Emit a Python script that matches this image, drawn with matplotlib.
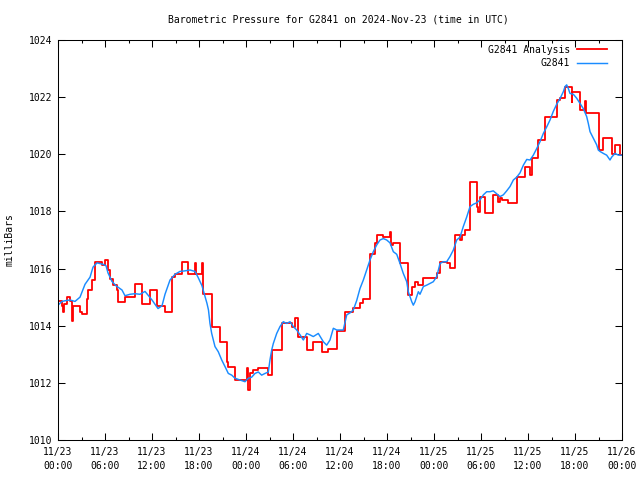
import matplotlib
matplotlib.use('Agg')
import matplotlib.pyplot as plt
from matplotlib.ticker import MultipleLocator

# G2841 station readings (hours since 2024-11-23 00:00 UTC, millibars)
g2841_hours = [0.0, 0.51, 1.02, 1.53, 2.17, 2.81, 3.45, 4.09, 4.47, 4.98,
               5.74, 6.13, 6.38, 6.89, 7.40, 8.17, 8.55, 9.19, 9.83, 10.47,
               11.11, 12.0, 12.77, 13.28, 13.66, 14.30, 14.94, 15.57, 16.21, 16.85,
               17.49, 17.87, 18.38, 18.77, 19.02, 19.21, 19.40, 19.62, 20.04, 20.46,
               20.90, 21.32, 21.74, 22.18, 22.60, 23.23, 23.87, 24.29, 24.73, 25.15,
               25.57, 26.0, 26.43, 26.85, 27.06, 27.28, 27.49, 27.92, 28.34, 28.76,
               29.20, 29.62, 30.04, 30.47, 30.90, 31.32, 31.75, 32.17, 32.59, 33.23,
               33.87, 34.30, 34.72, 35.15, 35.58, 36.0, 36.42, 36.86, 37.28, 37.70,
               38.13, 38.55, 38.98, 39.41, 39.83, 40.25, 40.69, 41.11, 41.53, 41.96,
               42.38, 42.81, 43.24, 43.66, 44.08, 44.52, 44.72, 44.94, 45.16, 45.36,
               45.58, 46.0, 46.21, 46.64, 47.07, 47.49, 47.91, 48.35, 48.77, 49.19,
               49.62, 50.04, 50.47, 50.90, 51.32, 51.74, 52.17, 52.60, 53.02, 53.45,
               53.87, 54.30, 54.73, 55.15, 55.57, 56.0, 56.42, 56.85, 57.28, 57.70,
               58.13, 58.56, 58.98, 59.41, 59.84, 60.26, 60.68, 61.11, 61.53, 61.96,
               62.39, 62.81, 63.23, 63.66, 64.09, 64.51, 64.73, 64.94, 65.15, 65.36,
               65.79, 66.22, 66.64, 67.06, 67.49, 67.70, 67.92, 68.34, 68.77, 68.97,
               69.19, 69.62, 70.04, 70.47, 70.68, 71.11, 71.53, 72.0]
g2841_mb = [1014.72, 1014.85, 1014.88, 1014.9, 1014.85, 1015.0, 1015.45, 1015.7, 1016.05, 1016.2,
            1016.15, 1016.1, 1015.85, 1015.55, 1015.4, 1015.25, 1015.05, 1015.1, 1015.12, 1015.1,
            1015.2, 1014.9, 1014.6, 1014.7, 1015.1, 1015.6, 1015.8, 1015.9, 1015.92, 1015.95,
            1015.9, 1015.7, 1015.4, 1015.02, 1014.78, 1014.55, 1014.08, 1013.73, 1013.27, 1013.09,
            1012.8, 1012.57, 1012.33, 1012.27, 1012.16, 1012.1, 1012.04, 1012.16, 1012.2, 1012.33,
            1012.38, 1012.27, 1012.33, 1012.38, 1012.8, 1013.15, 1013.38, 1013.73, 1013.97, 1014.14,
            1014.08, 1014.14, 1013.97, 1013.85, 1013.68, 1013.5, 1013.73, 1013.68, 1013.62, 1013.73,
            1013.44, 1013.32, 1013.5, 1013.91, 1013.85, 1013.85, 1013.85, 1014.38, 1014.45, 1014.55,
            1014.88, 1015.3, 1015.6, 1015.95, 1016.3, 1016.59, 1016.83, 1017.0, 1017.05, 1017.0,
            1016.9, 1016.59, 1016.5, 1016.18, 1015.83, 1015.54, 1015.19, 1015.02, 1014.84, 1014.72,
            1014.84, 1015.19, 1015.1, 1015.37, 1015.42, 1015.48, 1015.54, 1015.72, 1016.18, 1016.24,
            1016.24, 1016.42, 1016.65, 1017.0, 1017.1, 1017.47, 1017.8, 1018.17, 1018.25, 1018.3,
            1018.4, 1018.58, 1018.69, 1018.69, 1018.72, 1018.62, 1018.52, 1018.58, 1018.72, 1018.87,
            1019.1, 1019.2, 1019.35, 1019.62, 1019.82, 1019.8, 1019.97, 1020.2, 1020.44, 1020.73,
            1020.96, 1021.2, 1021.5, 1021.75, 1021.95, 1022.19, 1022.37, 1022.43, 1022.3, 1022.13,
            1022.1, 1021.96, 1021.78, 1021.6, 1021.32, 1021.08, 1020.79, 1020.56, 1020.33, 1020.15,
            1020.1, 1020.03, 1019.97, 1019.8, 1019.9, 1020.03, 1019.97, 1019.97]

# analysis values, each one holds until the next hour in the list
analysis_hours = [0.0, 0.47, 0.68, 0.80, 1.11, 1.53, 1.75, 1.95, 2.81, 3.03,
                  3.66, 3.87, 4.30, 4.72, 5.58, 6.0, 6.42, 6.64, 7.06, 7.49,
                  7.70, 8.55, 9.83, 10.69, 11.75, 12.60, 13.66, 14.52, 14.94, 15.79,
                  16.63, 17.49, 17.62, 18.32, 18.55, 19.62, 20.68, 21.54, 21.74, 22.60,
                  24.09, 24.29, 24.51, 24.93, 25.57, 26.85, 27.28, 28.56, 29.84, 30.26,
                  30.68, 31.75, 32.59, 33.66, 34.51, 35.58, 36.64, 37.70, 38.55, 38.98,
                  39.83, 40.47, 40.69, 41.53, 42.38, 42.51, 42.81, 43.66, 44.72, 45.16,
                  45.58, 46.0, 46.64, 48.35, 48.77, 49.62, 50.04, 50.68, 51.32, 51.54,
                  51.96, 52.60, 53.45, 53.66, 53.87, 54.51, 55.57, 56.21, 56.42, 56.64,
                  57.49, 58.56, 59.62, 60.26, 60.47, 61.28, 62.13, 63.66, 64.09, 64.73,
                  65.58, 65.66, 66.64, 67.28, 67.37, 69.04, 69.62, 70.68, 71.11, 71.75,
                  72.0]
analysis_mb = [1014.88, 1014.7, 1014.47, 1014.76, 1015.0, 1014.88, 1014.18, 1014.7, 1014.47, 1014.41,
               1014.94, 1015.24, 1015.59, 1016.24, 1016.12, 1016.29, 1015.94, 1015.65, 1015.41, 1015.24,
               1014.82, 1015.0, 1015.47, 1014.76, 1015.24, 1014.7, 1014.47, 1015.7, 1015.82, 1016.24,
               1015.82, 1016.18, 1015.82, 1016.18, 1015.12, 1013.97, 1013.44, 1012.74, 1012.57, 1012.1,
               1012.51, 1011.75, 1012.33, 1012.45, 1012.51, 1012.27, 1013.15, 1014.11, 1013.97, 1014.26,
               1013.62, 1013.15, 1013.44, 1013.09, 1013.2, 1013.82, 1014.49, 1014.61, 1014.78, 1014.92,
               1016.51, 1016.88, 1017.17, 1017.12, 1017.29, 1016.82, 1016.88, 1016.21, 1015.08, 1015.37,
               1015.54, 1015.43, 1015.66, 1015.86, 1016.24, 1016.18, 1016.01, 1017.17, 1017.0, 1017.18,
               1017.35, 1019.04, 1018.17, 1017.99, 1018.52, 1017.93, 1018.57, 1018.34, 1018.46, 1018.4,
               1018.28, 1019.22, 1019.57, 1019.28, 1019.86, 1020.5, 1021.32, 1021.9, 1021.96, 1022.37,
               1021.84, 1022.19, 1021.55, 1021.88, 1021.46, 1020.15, 1020.56, 1020.0, 1020.33, 1019.97,
               1019.97]

tick_hours = [0, 6, 12, 18, 24, 30, 36, 42, 48, 54, 60, 66, 72]
tick_labels = ['11/23\n00:00', '11/23\n06:00', '11/23\n12:00', '11/23\n18:00',
               '11/24\n00:00', '11/24\n06:00', '11/24\n12:00', '11/24\n18:00',
               '11/25\n00:00', '11/25\n06:00', '11/25\n12:00', '11/25\n18:00',
               '11/26\n00:00']

plt.rcParams['font.family'] = 'DejaVu Sans Mono'
plt.rcParams['font.size'] = 7

fig = plt.figure(figsize=(6.4, 4.8), dpi=100)
ax = fig.add_axes([58/640, 40/480, 564/640, 400/480])

ax.step(analysis_hours, analysis_mb, where='post', color='#ff0000', lw=1.3,
        label='G2841 Analysis')
ax.plot(g2841_hours, g2841_mb, color='#1a8cff', lw=1.05, label='G2841')

ax.set_xlim(0, 72)
ax.set_ylim(1010, 1024)
ax.set_xticks(tick_hours)
ax.set_xticklabels(tick_labels)
for lbl in ax.get_xticklabels():
    lbl.set_linespacing(1.45)
ax.xaxis.set_minor_locator(MultipleLocator(3))
ax.yaxis.set_major_locator(MultipleLocator(2))

ax.tick_params(which='major', direction='in', top=True, right=True,
               length=5, width=0.75, labelsize=7)
ax.tick_params(axis='x', which='major', pad=5)
ax.tick_params(axis='y', which='major', pad=4)
ax.tick_params(which='minor', direction='in', top=True, right=True,
               length=2.5, width=0.75)
for s in ax.spines.values():
    s.set_linewidth(0.75)

fig.text(338/640, 1 - 19/480, 'Barometric Pressure for G2841 on 2024-Nov-23 (time in UTC)',
         ha='center', va='center', fontsize=7)
fig.text(10/640, 0.5, 'milliBars', rotation=90, ha='center', va='center', fontsize=7)

ax.legend(loc='upper right', frameon=False, markerfirst=False,
          handlelength=3.1, handletextpad=0.7, labelspacing=0.35,
          borderaxespad=0.0, bbox_to_anchor=(1 - 11/564, 1 - 1/400), fontsize=7)

fig.savefig('out.png', dpi=100)
